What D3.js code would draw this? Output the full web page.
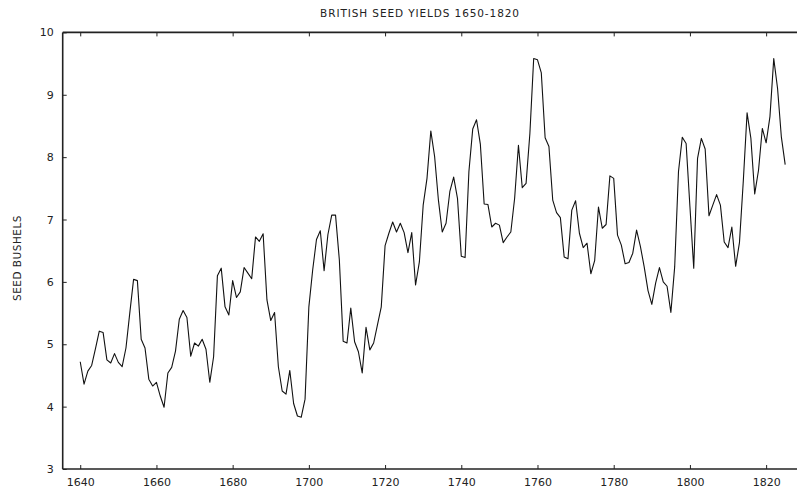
<!DOCTYPE html>
<html>
<head>
<meta charset="utf-8">
<script src="https://cdn.jsdelivr.net/npm/d3@7"></script>
<style>
  html, body { margin: 0; padding: 0; background: #fff; }
  svg { display: block; }
  text { font-family: "DejaVu Sans", Verdana, sans-serif; fill: #222; }
</style>
</head>
<body>
<svg id="chart" width="797" height="495"></svg>
<script>
const title = "BRITISH SEED YIELDS 1650-1820";
const yLabel = "SEED BUSHELS";
const startYear = 1640;
const yields = [
  4.72, 4.36, 4.57, 4.66, 4.93, 5.21, 5.19, 4.75, 4.70, 4.85,
  4.71, 4.64, 4.94, 5.50, 6.04, 6.02, 5.08, 4.94, 4.44, 4.33,
  4.39, 4.17, 3.99, 4.54, 4.63, 4.89, 5.40, 5.54, 5.43, 4.81,
  5.02, 4.97, 5.08, 4.92, 4.39, 4.80, 6.10, 6.22, 5.60, 5.47,
  6.02, 5.75, 5.84, 6.23, 6.14, 6.05, 6.72, 6.65, 6.77, 5.71,
  5.38, 5.51, 4.64, 4.25, 4.20, 4.58, 4.05, 3.85, 3.83, 4.12,
  5.60, 6.19, 6.68, 6.82, 6.18, 6.76, 7.07, 7.07, 6.35, 5.05,
  5.02, 5.58, 5.04, 4.88, 4.54, 5.27, 4.91, 5.02, 5.31, 5.60,
  6.58, 6.78, 6.96, 6.80, 6.94, 6.79, 6.47, 6.79, 5.95, 6.32,
  7.23, 7.66, 8.42, 8.01, 7.31, 6.80, 6.94, 7.45, 7.68, 7.34,
  6.41, 6.39, 7.77, 8.45, 8.60, 8.21, 7.25, 7.24, 6.88, 6.94,
  6.91, 6.63, 6.72, 6.80, 7.34, 8.19, 7.51, 7.58, 8.38, 9.58,
  9.56, 9.35, 8.31, 8.17, 7.31, 7.11, 7.03, 6.40, 6.37, 7.15,
  7.30, 6.78, 6.55, 6.62, 6.13, 6.34, 7.20, 6.86, 6.92, 7.70,
  7.66, 6.75, 6.59, 6.29, 6.31, 6.46, 6.83, 6.57, 6.24, 5.86,
  5.64, 5.98, 6.23, 6.00, 5.93, 5.51, 6.24, 7.77, 8.32, 8.22,
  7.21, 6.22, 7.98, 8.30, 8.13, 7.06, 7.23, 7.40, 7.23, 6.64,
  6.55, 6.88, 6.25, 6.63, 7.61, 8.71, 8.30, 7.41, 7.79, 8.46,
  8.23, 8.65, 9.58, 9.10, 8.32, 7.88
];
const xTicks = [1640, 1660, 1680, 1700, 1720, 1740, 1760, 1780, 1800, 1820];
const yTicks = [3, 4, 5, 6, 7, 8, 9, 10];

const data = yields.map((v, i) => ({ year: startYear + i, value: v }));

const svg = d3.select("#chart");
const mLeft = 62.7, mRight = 797, mTop = 32.4, mBottom = 469;

const x = d3.scaleLinear().domain([1635.4, 1828.1]).range([mLeft, mRight]);
const y = d3.scaleLinear().domain([3, 10]).range([mBottom, mTop]);

// line
svg.append("path")
  .datum(data)
  .attr("fill", "none")
  .attr("stroke", "#111")
  .attr("stroke-width", 1.1)
  .attr("stroke-linejoin", "round")
  .attr("d", d3.line().x(d => x(d.year)).y(d => y(d.value)));

// bottom axis
const gx = svg.append("g").attr("transform", `translate(0,${mBottom})`)
  .call(d3.axisBottom(x).tickValues(xTicks).tickSize(-4).tickPadding(9).tickFormat(d3.format("d")));
// top axis
const gt = svg.append("g").attr("transform", `translate(0,${mTop})`)
  .call(d3.axisTop(x).tickValues(xTicks).tickSize(-4).tickFormat(""));
// left axis
const gy = svg.append("g").attr("transform", `translate(${mLeft},0)`)
  .call(d3.axisLeft(y).tickValues(yTicks).tickSize(-4).tickPadding(9).tickFormat(d3.format("d")));

[gx, gt, gy].forEach(g => {
  g.select(".domain").attr("stroke", "#222").attr("stroke-width", 1.6);
  g.selectAll(".tick line").attr("stroke", "#222").attr("stroke-width", 1);
  g.selectAll(".tick text").attr("font-family", "DejaVu Sans, Verdana, sans-serif").attr("font-size", 11).attr("fill", "#222");
});
gx.select(".domain").attr("d", `M${mLeft},0H${mRight}`);
gt.select(".domain").attr("d", `M${mLeft},0H${mRight}`);
gy.select(".domain").attr("d", `M0,${mBottom}V${mTop}`);

svg.append("text")
  .attr("x", 420).attr("y", 17)
  .attr("text-anchor", "middle")
  .attr("font-size", 10.5)
  .attr("letter-spacing", 0.9)
  .text(title);

svg.append("text")
  .attr("transform", `translate(21,258) rotate(-90)`)
  .attr("text-anchor", "middle")
  .attr("font-size", 10.5)
  .attr("letter-spacing", 0.5)
  .text(yLabel);
</script>
</body>
</html>
